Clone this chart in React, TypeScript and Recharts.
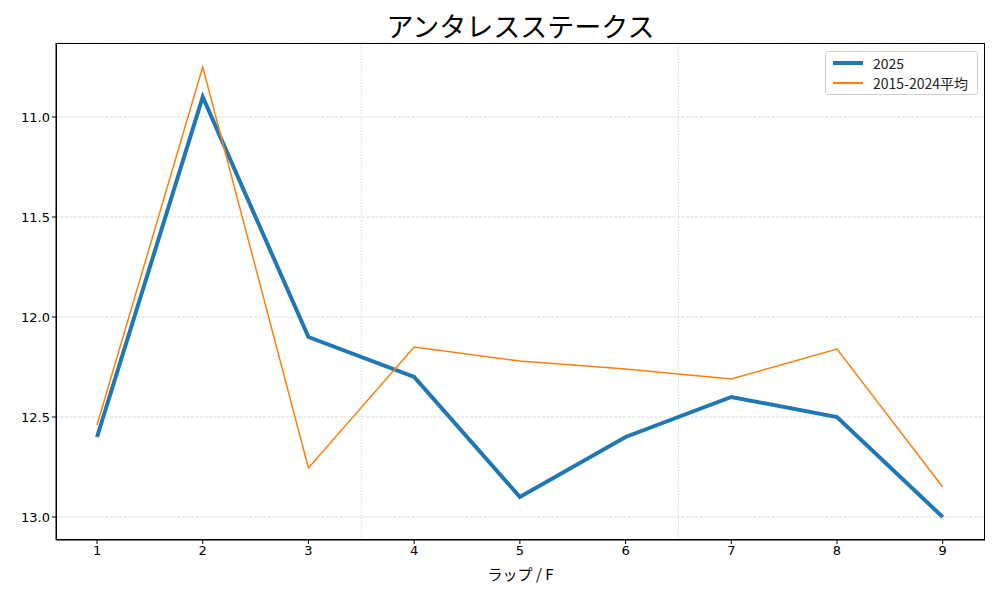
import React from "react";
import {
  LineChart,
  Line,
  XAxis,
  YAxis,
  CartesianGrid,
  ReferenceLine,
} from "recharts";

const laps = [1, 2, 3, 4, 5, 6, 7, 8, 9];
const times2025 = [12.6, 10.9, 12.1, 12.3, 12.9, 12.6, 12.4, 12.5, 13.0];
const timesAverage = [12.54, 10.75, 12.755, 12.15, 12.22, 12.26, 12.31, 12.16, 12.85];
const yTicks = [11.0, 11.5, 12.0, 12.5, 13.0];
const sectionDividers = [3.5, 6.5];

const data = laps.map((lap, i) => ({
  lap,
  current: times2025[i],
  average: timesAverage[i],
}));

const FONT = '"DejaVu Sans", "Noto Sans CJK JP", sans-serif';
const JP_FONT = '"Noto Sans CJK JP", "DejaVu Sans", sans-serif';

function LegendBox() {
  return (
    <div
      style={{
        position: "absolute",
        top: 51,
        left: 825,
        width: 153,
        height: 44,
        boxSizing: "border-box",
        border: "1px solid #d0d0d0",
        borderRadius: 3,
        background: "rgba(255,255,255,0.8)",
        padding: "1px 7px",
        fontFamily: JP_FONT,
        fontSize: 14,
        color: "#222",
        lineHeight: "20px",
      }}
    >
      <div style={{ display: "flex", alignItems: "center", gap: 10 }}>
        <span style={{ width: 30, height: 4, background: "#1f77b4", display: "inline-block" }} />
        <span>2025</span>
      </div>
      <div style={{ display: "flex", alignItems: "center", gap: 10 }}>
        <span style={{ width: 30, height: 1.5, background: "#ff7f0e", display: "inline-block" }} />
        <span>2015-2024平均</span>
      </div>
    </div>
  );
}

export default function App() {
  return (
    <div
      style={{
        position: "fixed",
        top: 0,
        left: 0,
        width: 1000,
        height: 600,
        background: "#fff",
      }}
    >
      <div
        style={{
          position: "absolute",
          top: 7,
          left: 56,
          width: 929,
          textAlign: "center",
          fontFamily: JP_FONT,
          fontSize: 27,
          color: "#000",
          lineHeight: "38px",
        }}
      >
        アンタレスステークス
      </div>
      <LineChart
        width={1000}
        height={600}
        data={data}
        margin={{ top: 43, right: 15, left: 0, bottom: 30 }}
      >
        <CartesianGrid
          horizontal
          vertical={false}
          stroke="#b0b0b0"
          strokeDasharray="3 1.5"
          strokeWidth={0.5}
        />
        {sectionDividers.map((x) => (
          <ReferenceLine
            key={x}
            x={x}
            stroke="#b0b0b0"
            strokeDasharray="1.5 1.5"
            strokeWidth={0.5}
          />
        ))}
        <XAxis
          dataKey="lap"
          type="number"
          domain={[0.612, 9.4]}
          ticks={laps}
          allowDataOverflow
          height={30}
          tickSize={4}
          stroke="#000"
          tick={{ fill: "#000", fontSize: 13, fontFamily: FONT }}
          label={{
            value: "ラップ\u00a0/\u00a0F",
            position: "insideBottom",
            offset: -10,
            fill: "#000",
            fontSize: 15,
            fontFamily: JP_FONT,
          }}
        />
        <YAxis
          type="number"
          reversed
          domain={[10.63, 13.115]}
          ticks={yTicks}
          allowDataOverflow
          width={56}
          tickSize={4}
          stroke="#000"
          tickFormatter={(v: number) => v.toFixed(1)}
          tick={{ fill: "#000", fontSize: 13, fontFamily: FONT }}
        />
        <Line
          dataKey="current"
          stroke="#1f77b4"
          strokeWidth={4}
          dot={false}
          isAnimationActive={false}
        />
        <Line
          dataKey="average"
          stroke="#ff7f0e"
          strokeWidth={1.5}
          dot={false}
          isAnimationActive={false}
        />
      </LineChart>
      <LegendBox />
      <div
        style={{
          position: "absolute",
          top: 43,
          left: 56,
          width: 929,
          height: 497,
          border: "1px solid #000",
          boxSizing: "border-box",
          pointerEvents: "none",
        }}
      />
    </div>
  );
}
